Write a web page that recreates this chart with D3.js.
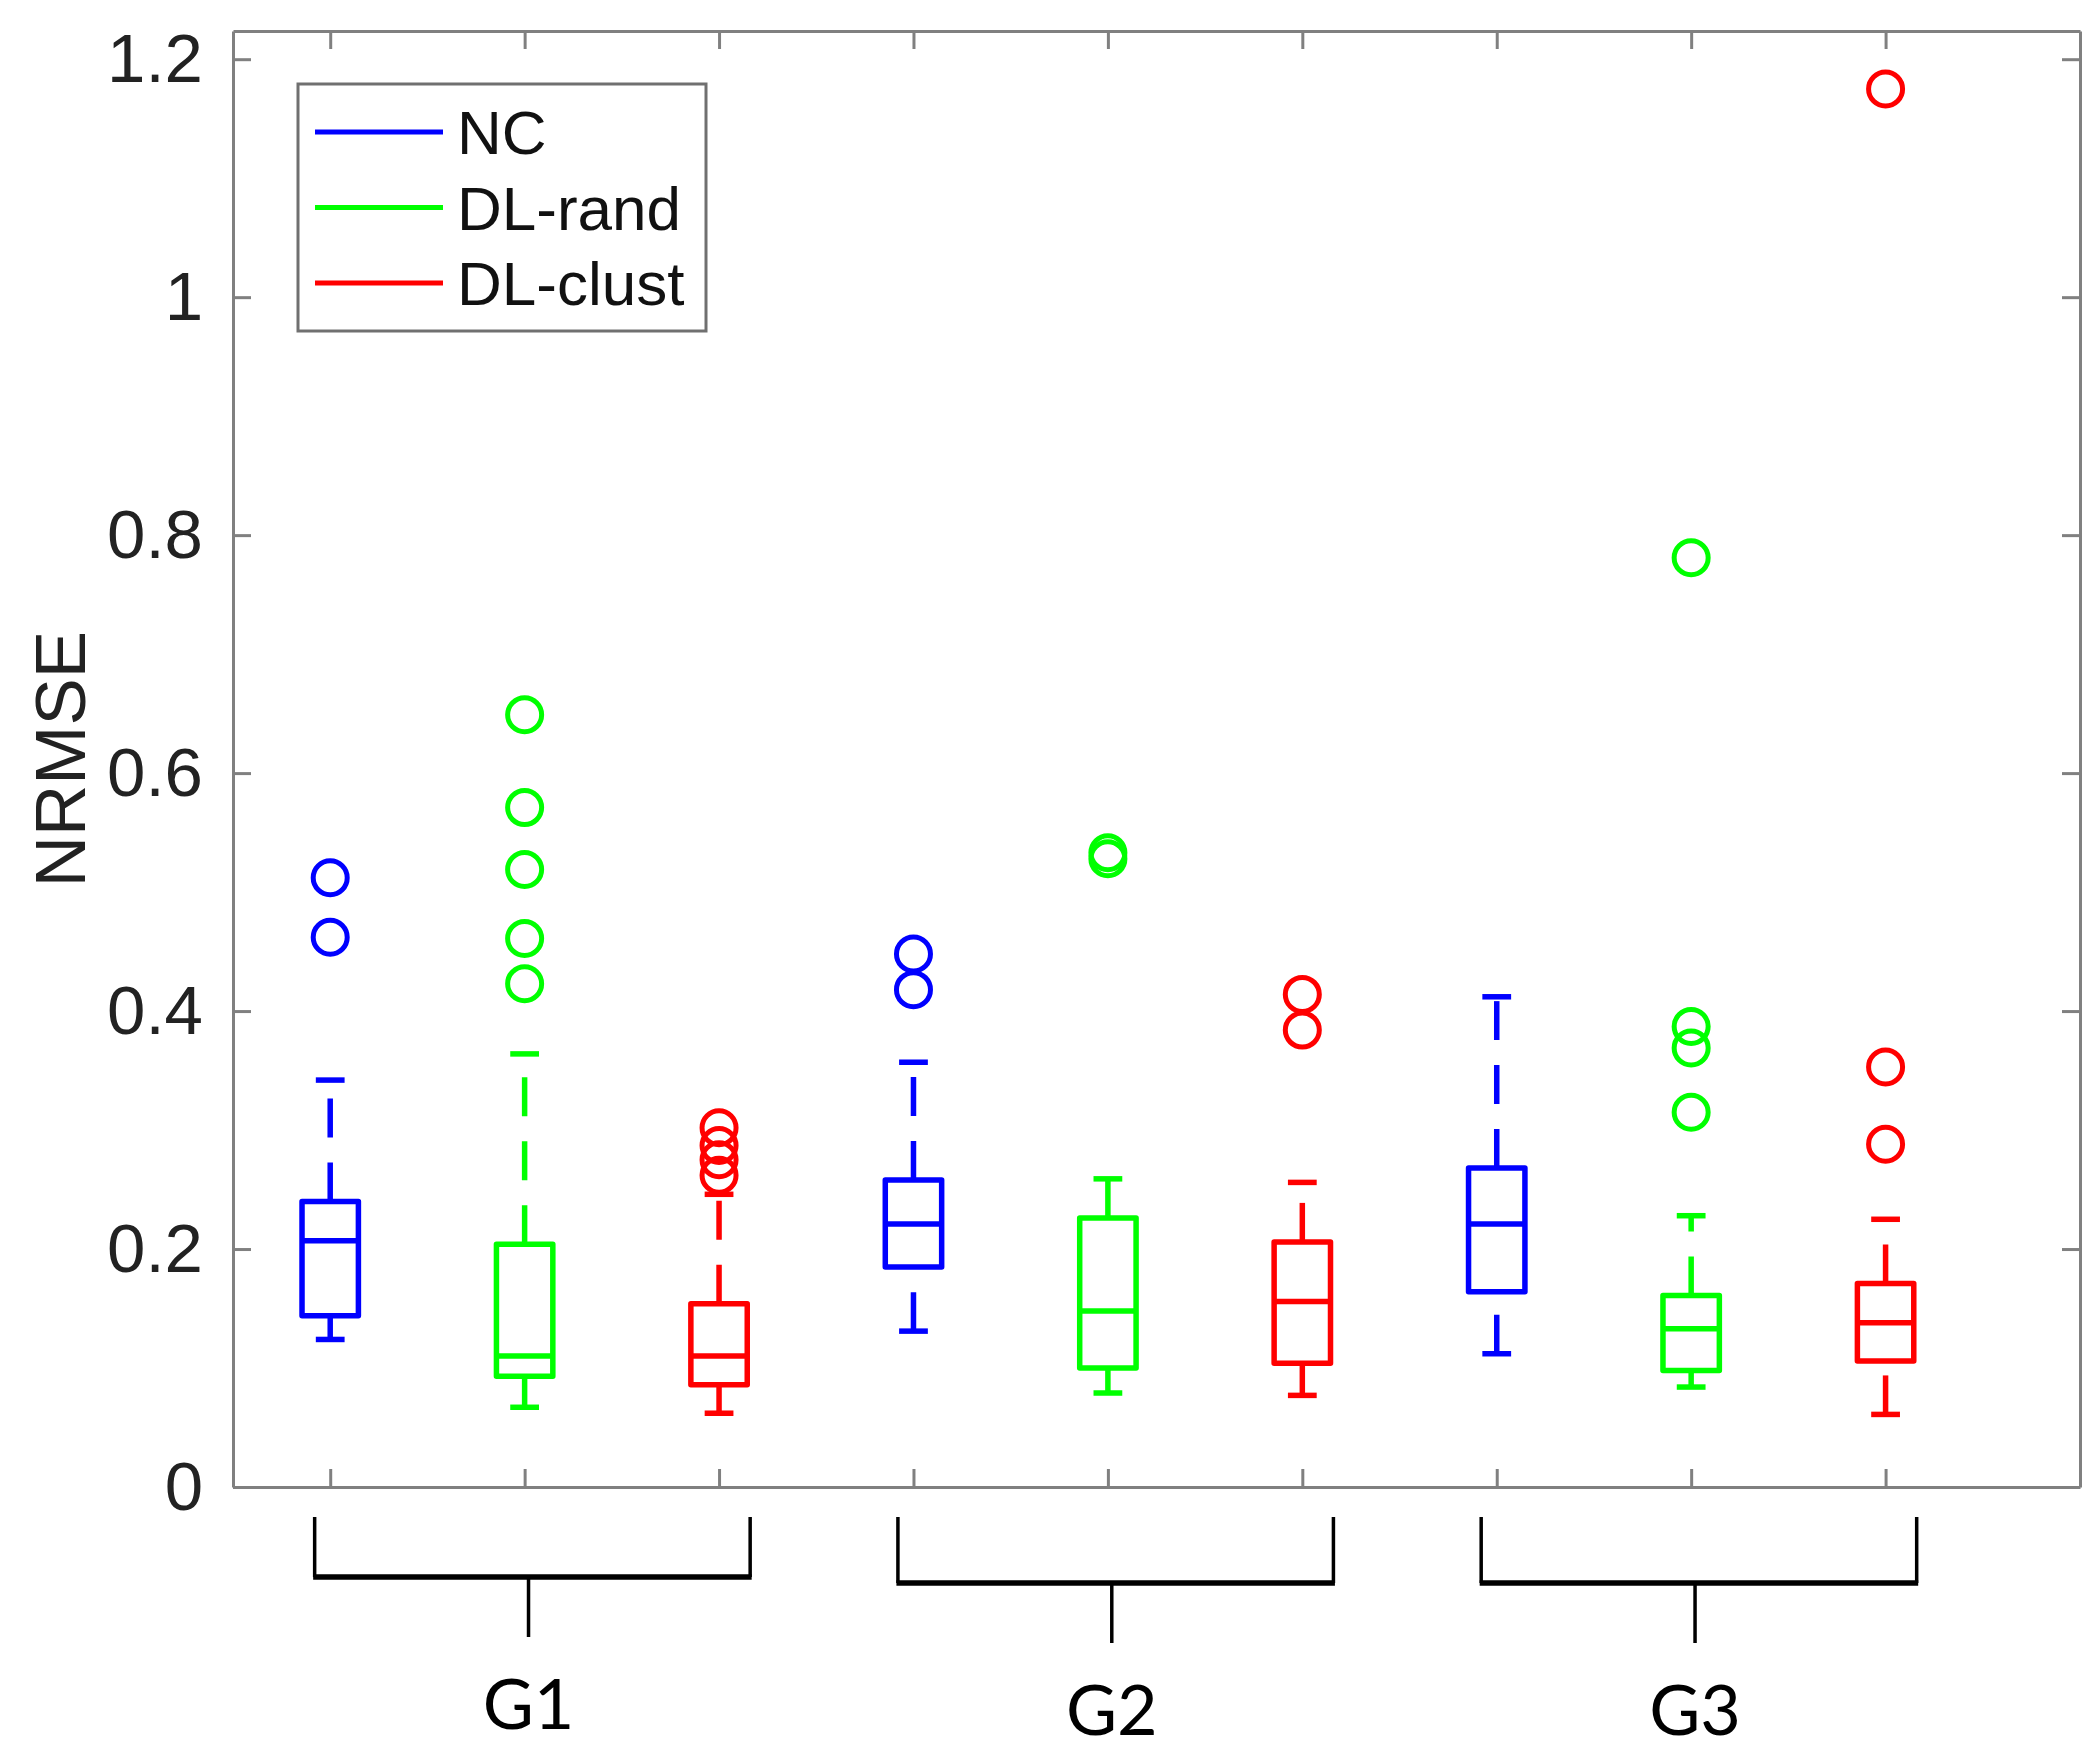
<!DOCTYPE html>
<html lang="en">
<head>
    <meta charset="UTF-8">
    <title>NRMSE by group and method</title>
    <script src="https://d3js.org/d3.v7.min.js"></script>
    <style>
        body { margin: 0; background: #fff; }
        svg { display: block; }
        .tick text { font-family: "Liberation Sans", Arial, sans-serif; }
    </style>
</head>
<body>
    <div id="chart"></div>

    <script>
        // Data (NRMSE box statistics, 9 boxes: G1..G3 x NC/DL-rand/DL-clust)
        const groups = ["G1", "G2", "G3"];
        const methods = ["NC", "DL-rand", "DL-clust"];
        const colors = ["#0000ff", "#00ff00", "#ff0000"];

        const lowerWhisker = [0.124, 0.067, 0.062, 0.131, 0.079, 0.077, 0.112, 0.084, 0.061];
        const q1 = [0.144, 0.093, 0.086, 0.185, 0.100, 0.104, 0.164, 0.098, 0.106];
        const median = [0.207, 0.110, 0.110, 0.221, 0.148, 0.156, 0.221, 0.133, 0.138];
        const q3 = [0.240, 0.204, 0.154, 0.258, 0.226, 0.206, 0.268, 0.161, 0.171];
        const upperWhisker = [0.342, 0.364, 0.246, 0.357, 0.259, 0.256, 0.412, 0.228, 0.225];
        const outliers = [
            [0.512, 0.462],
            [0.649, 0.571, 0.519, 0.461, 0.423],
            [0.302, 0.287, 0.275, 0.262],
            [0.448, 0.418],
            [0.533, 0.528],
            [0.414, 0.384],
            [],
            [0.781, 0.387, 0.369, 0.315],
            [1.175, 0.353, 0.288]
        ];
        const yTicks = [0, 0.2, 0.4, 0.6, 0.8, 1, 1.2];

        // layout
        const width = 2100, height = 1756;
        const margin = { top: 31, right: 20, bottom: 269, left: 233 };
        const plotW = width - margin.left - margin.right;
        const plotH = height - margin.top - margin.bottom;
        const axisColor = "#808080";
        const textColor = "#222";

        const svg = d3.select("#chart")
            .append("svg")
            .attr("width", width)
            .attr("height", height);

        const positions = d3.range(1, 10);
        const x = d3.scaleLinear().domain([0.5, 10]).range([0, plotW]);
        const y = d3.scaleLinear().domain([0, 1.2237]).range([plotH, 0]);

        const g = svg.append("g").attr("transform", `translate(${margin.left},${margin.top})`);

        // axes (MATLAB style: ticks inside, box on)
        const fmt = d => String(+d.toFixed(1));
        const styleAxis = sel => {
            sel.selectAll("path.domain").attr("stroke", axisColor).attr("stroke-width", 3);
            sel.selectAll(".tick line").attr("stroke", axisColor).attr("stroke-width", 3);
            sel.selectAll(".tick text").attr("fill", textColor).attr("font-size", 69);
        };

        g.append("g")
            .call(d3.axisLeft(y).tickValues(yTicks).tickFormat(fmt).tickSizeInner(-18).tickSizeOuter(0).tickPadding(30))
            .call(styleAxis);
        g.append("g")
            .attr("transform", `translate(${plotW},0)`)
            .call(d3.axisRight(y).tickValues(yTicks).tickFormat("").tickSizeInner(-18).tickSizeOuter(0))
            .call(styleAxis);
        g.append("g")
            .attr("transform", `translate(0,${plotH})`)
            .call(d3.axisBottom(x).tickValues(positions).tickFormat("").tickSizeInner(-18).tickSizeOuter(0))
            .call(styleAxis);
        g.append("g")
            .call(d3.axisTop(x).tickValues(positions).tickFormat("").tickSizeInner(-18).tickSizeOuter(0))
            .call(styleAxis);

        // y label
        svg.append("text")
            .attr("transform", `translate(85,${margin.top + plotH / 2}) rotate(-90)`)
            .attr("text-anchor", "middle")
            .attr("font-family", "Liberation Sans, Arial, sans-serif")
            .attr("font-size", 71)
            .attr("fill", textColor)
            .text("NRMSE");

        // box plots
        const boxHalf = 0.145, capHalf = 0.074;
        const boxes = positions.map((p, i) => ({
            pos: p,
            color: colors[i % 3],
            lw: lowerWhisker[i], q1: q1[i], med: median[i], q3: q3[i], uw: upperWhisker[i],
            out: outliers[i]
        }));

        const bx = g.append("g").selectAll("g.box")
            .data(boxes)
            .join("g")
            .attr("class", "box")
            .attr("stroke", d => d.color)
            .attr("fill", "none")
            .attr("stroke-width", 5.5);

        // whiskers: dashed, drawn from the lower value upward
        bx.append("line")
            .attr("x1", d => x(d.pos)).attr("x2", d => x(d.pos))
            .attr("y1", d => y(d.q3)).attr("y2", d => y(d.uw))
            .attr("stroke-dasharray", "39,25");
        bx.append("line")
            .attr("x1", d => x(d.pos)).attr("x2", d => x(d.pos))
            .attr("y1", d => y(d.lw)).attr("y2", d => y(d.q1))
            .attr("stroke-dasharray", "39,25");

        // caps
        bx.append("line")
            .attr("x1", d => x(d.pos - capHalf)).attr("x2", d => x(d.pos + capHalf))
            .attr("y1", d => y(d.uw)).attr("y2", d => y(d.uw));
        bx.append("line")
            .attr("x1", d => x(d.pos - capHalf)).attr("x2", d => x(d.pos + capHalf))
            .attr("y1", d => y(d.lw)).attr("y2", d => y(d.lw));

        // box + median
        bx.append("rect")
            .attr("x", d => x(d.pos - boxHalf))
            .attr("width", d => x(d.pos + boxHalf) - x(d.pos - boxHalf))
            .attr("y", d => y(d.q3))
            .attr("height", d => y(d.q1) - y(d.q3))
            .attr("stroke-linejoin", "round");
        bx.append("line")
            .attr("x1", d => x(d.pos - boxHalf)).attr("x2", d => x(d.pos + boxHalf))
            .attr("y1", d => y(d.med)).attr("y2", d => y(d.med));

        // outliers
        bx.selectAll("circle")
            .data(d => d.out.map(v => ({ pos: d.pos, v })))
            .join("circle")
            .attr("cx", d => x(d.pos))
            .attr("cy", d => y(d.v))
            .attr("r", 17)
            .attr("stroke-width", 5);

        // legend
        const legend = svg.append("g").attr("transform", "translate(298,84)");
        legend.append("rect")
            .attr("width", 408).attr("height", 247)
            .attr("fill", "#fff")
            .attr("stroke", "#707070")
            .attr("stroke-width", 3);
        const item = legend.selectAll("g.item")
            .data(methods)
            .join("g")
            .attr("class", "item")
            .attr("transform", (d, i) => `translate(0,${48 + i * 75.5})`);
        item.append("line")
            .attr("x1", 17).attr("x2", 145)
            .attr("stroke", (d, i) => colors[i])
            .attr("stroke-width", 5);
        item.append("text")
            .attr("x", 159)
            .attr("y", 22)
            .attr("font-family", "Liberation Sans, Arial, sans-serif")
            .attr("font-size", 62)
            .attr("fill", "#111")
            .text(d => d);

        // group brackets under the axis
        const bracketTop = margin.top + plotH + 30;
        const bracketDrop = [0, 6, 6];
        const br = svg.append("g")
            .attr("transform", `translate(${margin.left},0)`)
            .selectAll("g.bracket")
            .data(groups)
            .join("g")
            .attr("class", "bracket")
            .attr("stroke", "#000")
            .attr("fill", "none");

        br.append("path")
            .attr("stroke-width", 3.5)
            .attr("d", (d, i) => {
                const x0 = x(i * 3 + 1 - 0.08), x1 = x(i * 3 + 3 + 0.16);
                const yb = bracketTop + 60 + bracketDrop[i];
                return `M${x0},${bracketTop}V${yb}M${x1},${bracketTop}V${yb}`;
            });
        br.append("line")
            .attr("stroke-width", 5.5)
            .attr("x1", (d, i) => x(i * 3 + 1 - 0.08) - 1.5)
            .attr("x2", (d, i) => x(i * 3 + 3 + 0.16) + 1.5)
            .attr("y1", (d, i) => bracketTop + 60 + bracketDrop[i])
            .attr("y2", (d, i) => bracketTop + 60 + bracketDrop[i]);
        br.append("line")
            .attr("stroke-width", 3.5)
            .attr("x1", (d, i) => x(i * 3 + 2.02))
            .attr("x2", (d, i) => x(i * 3 + 2.02))
            .attr("y1", (d, i) => bracketTop + 60 + bracketDrop[i])
            .attr("y2", (d, i) => bracketTop + 120 + bracketDrop[i]);
        br.append("text")
            .attr("stroke", "none")
            .attr("fill", "#000")
            .attr("x", (d, i) => x(i * 3 + 2.02))
            .attr("y", (d, i) => bracketTop + 212 + bracketDrop[i])
            .attr("text-anchor", "middle")
            .attr("font-family", "Lato, 'Open Sans', sans-serif")
            .attr("font-size", 70)
            .text(d => d);
    </script>
</body>
</html>
